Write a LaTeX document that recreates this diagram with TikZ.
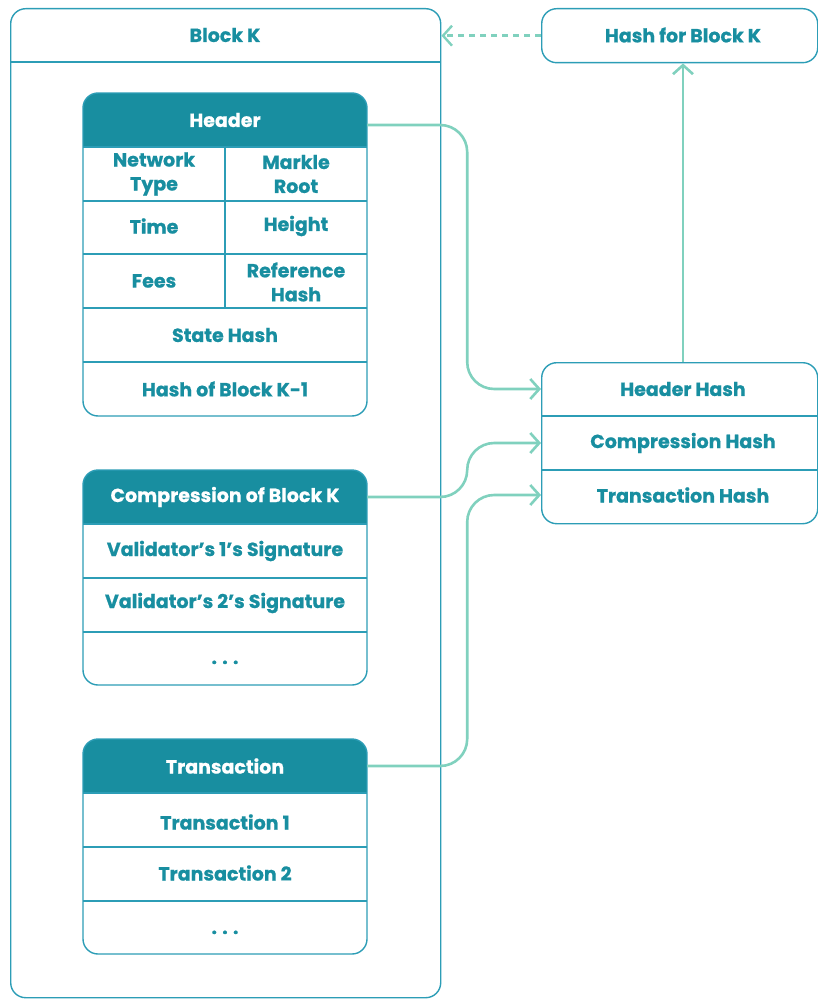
\documentclass[tikz,border=0pt]{standalone}
\usepackage{fontspec}
\setmainfont{Poppins}[BoldFeatures={FakeBold=0.8}]
\usetikzlibrary{arrows.meta}
\definecolor{teal1}{RGB}{24,142,160}
\definecolor{edge}{RGB}{44,157,182}
\definecolor{mint}{RGB}{128,209,190}
\begin{document}
\begin{tikzpicture}[x=1pt,y=-1pt,
  font=\fontsize{19}{24}\selectfont\bfseries,
  txt/.style={text=teal1, align=center, inner sep=0pt},
  band/.style={text=white, align=center, inner sep=0pt, minimum width=284pt, minimum height=54pt},
  frame/.style={draw=edge, line width=1.4pt, rounded corners=15pt},
  sep/.style={draw=edge, line width=1.4pt},
  conn/.style={draw=mint, line width=2.6pt, rounded corners=27pt, -{Straight Barb[length=9pt,width=20pt]}},
  dconn/.style={draw=mint, line width=2.4pt, dash pattern=on 6pt off 5pt, -{Straight Barb[length=9pt,width=20pt]}}
]
\useasboundingbox (0,0) rectangle (817,1000);

% Block K outer frame
\node[frame, minimum width=430pt, minimum height=989pt, anchor=north west, inner sep=0pt] (blockK) at (10,8) {};
\draw[sep] (10,62) -- (440,62);
\node[txt] (blk) at (225,35) {Block K};

% Hash for Block K
\node[frame, minimum width=276pt, minimum height=54pt, anchor=north west, inner sep=0pt] (hfb) at (541,8) {};
\node[txt] (hfbt) at (683,35) {Hash for Block K};

% Header table
\begin{scope}
\clip[rounded corners=15pt] (83,93) rectangle (367,416);
\fill[teal1] (83,93) rectangle (367,147);
\end{scope}
\draw[frame] (83,93) rectangle (367,416);
\foreach \yy in {147,201,254,308,362} \draw[sep] (83,\yy) -- (367,\yy);
\draw[sep] (225,147) -- (225,308);
\node[band] (hdr) at (225,120) {Header};
\node[txt] (nt) at (154,174) {Network\\Type};
\node[txt] (mr) at (296,174) {Markle\\Root};
\node[txt] (tm) at (154,226) {Time};
\node[txt] (hg) at (296,226) {Height};
\node[txt] (fe) at (154,281) {Fees};
\node[txt] (rh) at (296,282) {Reference\\Hash};
\node[txt] (sh) at (225,335) {State Hash};
\node[txt] (hb) at (225,389) {Hash of Block K-1};

% Compression table
\begin{scope}
\clip[rounded corners=15pt] (83,470) rectangle (367,685);
\fill[teal1] (83,470) rectangle (367,524);
\end{scope}
\draw[frame] (83,470) rectangle (367,685);
\foreach \yy in {524,578,632} \draw[sep] (83,\yy) -- (367,\yy);
\node[band] (cmp) at (225,497) {Compression of Block K};
\node[txt] (v1) at (225,551) {Validator’s 1’s Signature};
\node[txt] (v2) at (225,603) {Validator’s 2’s Signature};
\node[txt, anchor=base] (d1) at (225,664) {. . .};

% Transaction table
\begin{scope}
\clip[rounded corners=15pt] (83,739) rectangle (367,954);
\fill[teal1] (83,739) rectangle (367,793);
\end{scope}
\draw[frame] (83,739) rectangle (367,954);
\foreach \yy in {793,847,901} \draw[sep] (83,\yy) -- (367,\yy);
\node[band] (trn) at (225,766) {Transaction};
\node[txt] (t1) at (225,822) {Transaction 1};
\node[txt] (t2) at (225,873) {Transaction 2};
\node[txt, anchor=base] (d2) at (225,934) {. . .};

% Hash box
\node[frame, minimum width=276pt, minimum height=161pt, anchor=north west, inner sep=0pt] (hbox) at (541,362) {};
\draw[sep] (541,416) -- (817,416);
\draw[sep] (541,470) -- (817,470);
\node[txt] (hh) at (683,389) {Header Hash};
\node[txt] (ch) at (683,443) {Compression Hash};
\node[txt] (th) at (683,495) {Transaction Hash};

% Connectors
\draw[conn] ([yshift=-5pt]hdr.east) -- ++(100,0) |- (hbox.west |- hh);
\draw[conn] (cmp.east) -- ++(100,0) |- (hbox.west |- ch);
\draw[conn] (trn.east) -- ++(100,0) |- (hbox.west |- th);
\draw[conn, rounded corners=0pt] (hbox.north -| hh) -- (hfb.south -| hh);
\draw[dconn] (hfb.west) -- (blockK.east |- hfb.west);
\end{tikzpicture}
\end{document}
